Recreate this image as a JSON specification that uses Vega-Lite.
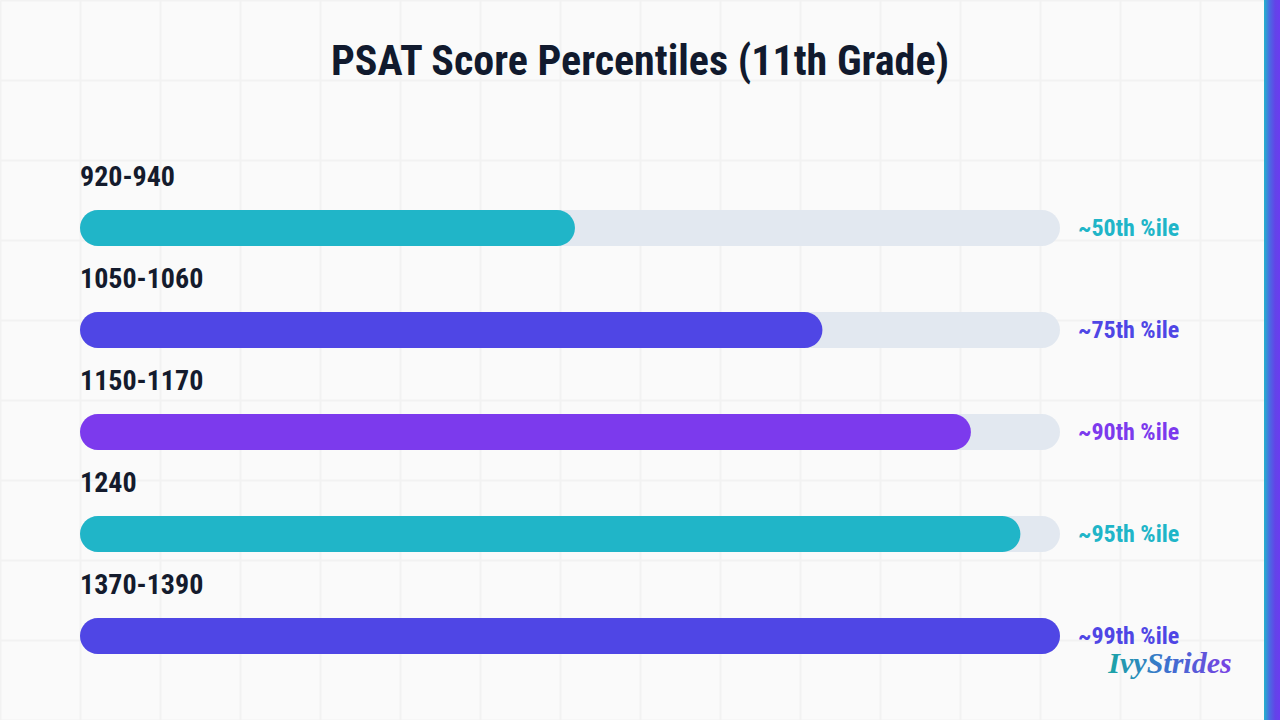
{
  "$schema": "https://vega.github.io/schema/vega-lite/v6.json",
  "width": 1280,
  "height": 720,
  "autosize": {"type": "none"},
  "padding": 0,
  "background": "#fafafa",
  "config": {
    "view": {"stroke": null},
    "font": "Roboto Condensed, Roboto, sans-serif"
  },
  "resolve": {
    "scale": {"x": "independent", "y": "independent"},
    "axis": {"x": "independent", "y": "independent"}
  },
  "layer": [
    {
      "data": {"values": [{"part": "strip"}]},
      "mark": {
        "type": "rect",
        "color": {
          "gradient": "linear",
          "x1": 0, "y1": 0, "x2": 1, "y2": 0,
          "stops": [
            {"offset": 0, "color": "#22b3cc"},
            {"offset": 0.35, "color": "#4a6ae2"},
            {"offset": 0.7, "color": "#6343e8"},
            {"offset": 1, "color": "#6a3cf0"}
          ]
        }
      },
      "encoding": {
        "x": {
          "datum": 1264, "type": "quantitative",
          "scale": {"domain": [0, 1280], "nice": false, "zero": false, "padding": 0},
          "axis": {
            "orient": "bottom",
            "values": [0, 80, 160, 240, 320, 400, 480, 560, 640, 720, 800, 880, 960, 1040, 1120, 1200, 1280],
            "grid": true, "gridColor": "#f2f2f2", "gridWidth": 2, "gridOpacity": 1,
            "labels": false, "ticks": false, "domain": false, "title": null
          }
        },
        "x2": {"datum": 1280},
        "y": {
          "datum": 0, "type": "quantitative",
          "scale": {"domain": [0, 720], "nice": false, "zero": false, "reverse": true, "padding": 0},
          "axis": {
            "orient": "left",
            "values": [0, 80, 160, 240, 320, 400, 480, 560, 640, 720],
            "grid": true, "gridColor": "#f2f2f2", "gridWidth": 2, "gridOpacity": 1,
            "labels": false, "ticks": false, "domain": false, "title": null
          }
        },
        "y2": {"datum": 720}
      }
    },
    {
      "data": {"values": [{"title": "PSAT Score Percentiles (11th Grade)"}]},
      "mark": {"type": "text", "align": "center", "baseline": "middle", "fontSize": 42, "fontWeight": "bold", "color": "#111a2e"},
      "encoding": {
        "x": {"datum": 640, "type": "quantitative", "scale": {"domain": [0, 1280], "nice": false, "zero": false, "padding": 0}, "axis": null},
        "y": {"datum": 62, "type": "quantitative", "scale": {"domain": [0, 720], "nice": false, "zero": false, "reverse": true, "padding": 0}, "axis": null},
        "text": {"field": "title", "type": "nominal"}
      }
    },
    {
      "data": {"values": [{"brand": "IvyStrides"}]},
      "mark": {
        "type": "text", "align": "center", "baseline": "middle",
        "font": "Liberation Serif", "fontSize": 30, "fontWeight": "bold", "fontStyle": "italic",
        "color": {
          "gradient": "linear",
          "x1": 0, "y1": 0, "x2": 1, "y2": 0,
          "stops": [
            {"offset": 0, "color": "#1aa6a6"},
            {"offset": 0.5, "color": "#3f6fd0"},
            {"offset": 1, "color": "#7b3fe4"}
          ]
        }
      },
      "encoding": {
        "x": {"datum": 1170, "type": "quantitative", "scale": {"domain": [0, 1280], "nice": false, "zero": false, "padding": 0}, "axis": null},
        "y": {"datum": 664, "type": "quantitative", "scale": {"domain": [0, 720], "nice": false, "zero": false, "reverse": true, "padding": 0}, "axis": null},
        "text": {"field": "brand", "type": "nominal"}
      }
    },
    {
      "data": {
        "values": [
          {"row": 1, "score": "920-940", "pct": 50, "label": "~50th %ile"},
          {"row": 2, "score": "1050-1060", "pct": 75, "label": "~75th %ile"},
          {"row": 3, "score": "1150-1170", "pct": 90, "label": "~90th %ile"},
          {"row": 4, "score": "1240", "pct": 95, "label": "~95th %ile"},
          {"row": 5, "score": "1370-1390", "pct": 99, "label": "~99th %ile"}
        ]
      },
      "encoding": {
        "y": {
          "field": "row", "type": "quantitative",
          "scale": {"domain": [1, 5], "range": [228, 636], "nice": false, "zero": false, "padding": 0},
          "axis": null
        }
      },
      "layer": [
        {
          "mark": {"type": "bar", "height": 36, "cornerRadius": 18, "color": "#e2e8f0"},
          "encoding": {
            "x": {"datum": 0, "type": "quantitative", "scale": {"domain": [0, 99], "range": [80, 1060], "nice": false, "zero": false, "padding": 0}, "axis": null},
            "x2": {"datum": 99}
          }
        },
        {
          "mark": {"type": "bar", "height": 36, "cornerRadius": 18},
          "encoding": {
            "x": {"field": "pct", "type": "quantitative", "scale": {"domain": [0, 99], "range": [80, 1060], "nice": false, "zero": false, "padding": 0}, "axis": null},
            "x2": {"datum": 0},
            "color": {
              "field": "score", "type": "nominal",
              "scale": {
                "domain": ["920-940", "1050-1060", "1150-1170", "1240", "1370-1390"],
                "range": ["#20b5c8", "#4f46e5", "#7c3aed", "#20b5c8", "#4f46e5"]
              },
              "legend": null
            }
          }
        },
        {
          "mark": {"type": "text", "align": "left", "baseline": "middle", "dy": -50, "fontSize": 28, "fontWeight": "bold", "color": "#141b2d"},
          "encoding": {
            "x": {"datum": 0, "type": "quantitative", "scale": {"domain": [0, 99], "range": [80, 1060], "nice": false, "zero": false, "padding": 0}, "axis": null},
            "text": {"field": "score", "type": "nominal"}
          }
        },
        {
          "mark": {"type": "text", "align": "left", "baseline": "middle", "dx": 18, "dy": 1, "fontSize": 24, "fontWeight": "bold"},
          "encoding": {
            "x": {"datum": 99, "type": "quantitative", "scale": {"domain": [0, 99], "range": [80, 1060], "nice": false, "zero": false, "padding": 0}, "axis": null},
            "text": {"field": "label", "type": "nominal"},
            "color": {
              "field": "score", "type": "nominal",
              "scale": {
                "domain": ["920-940", "1050-1060", "1150-1170", "1240", "1370-1390"],
                "range": ["#20b5c8", "#4f46e5", "#7c3aed", "#20b5c8", "#4f46e5"]
              },
              "legend": null
            }
          }
        }
      ]
    }
  ]
}
